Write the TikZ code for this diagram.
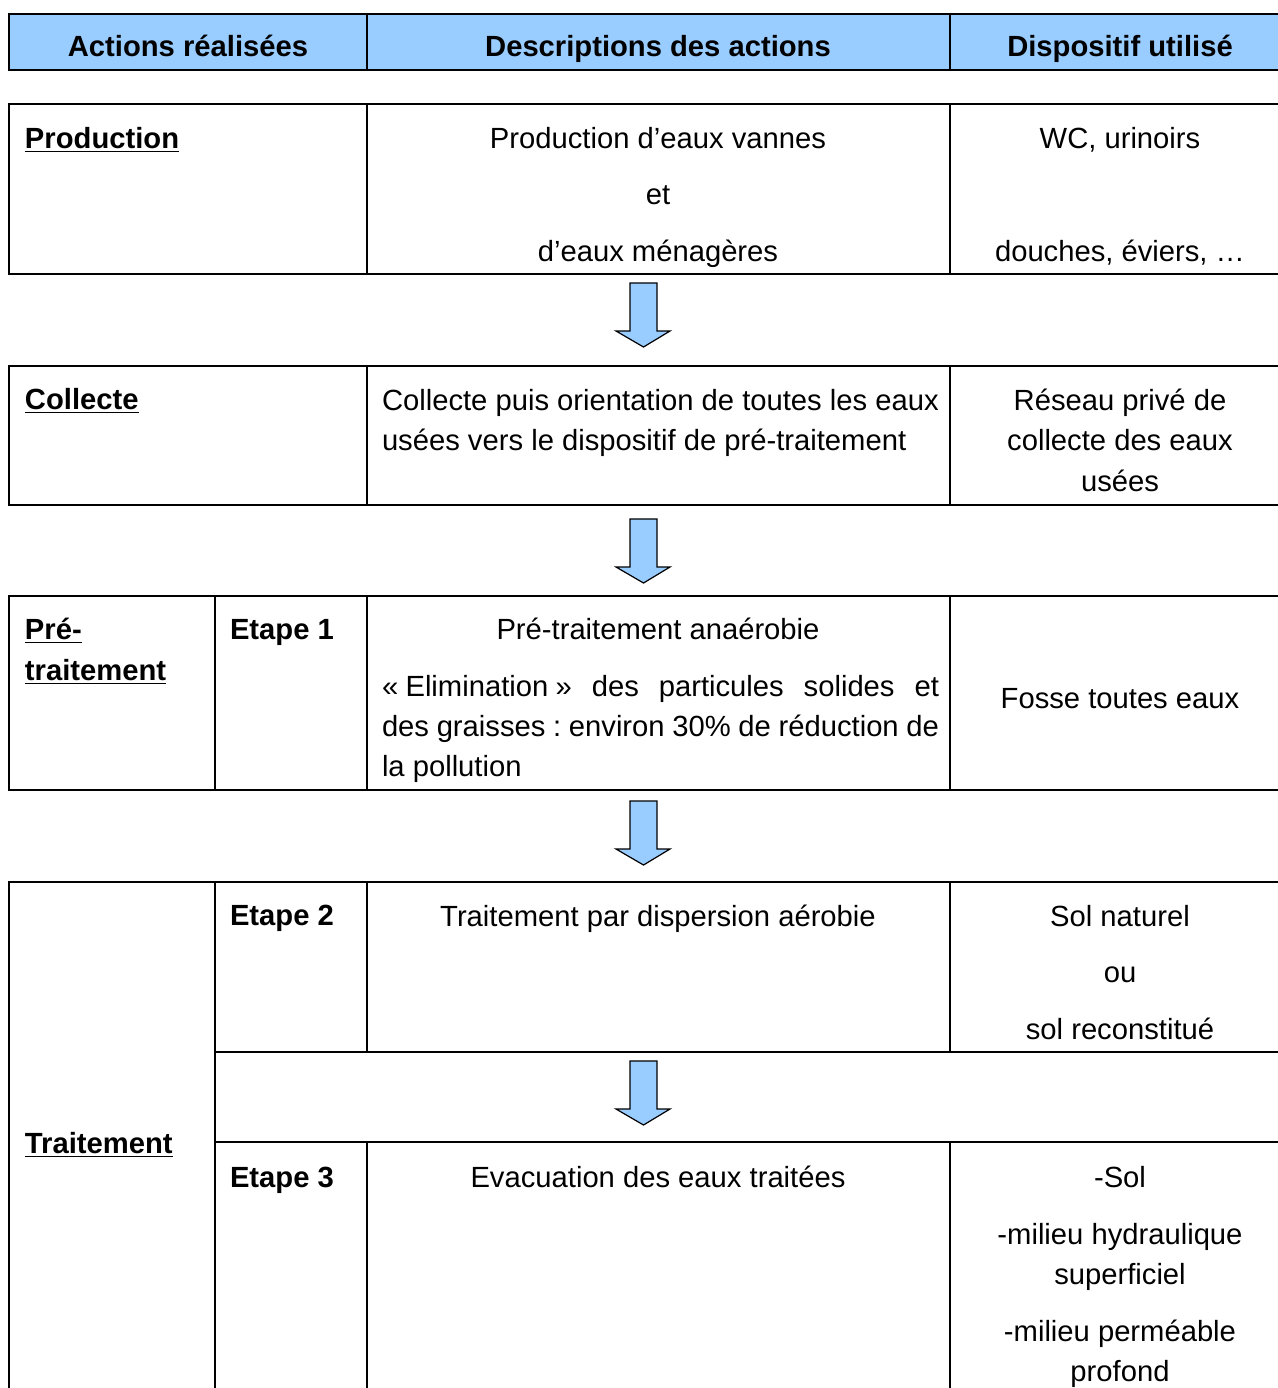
\documentclass[tikz,border=0pt]{standalone}
\usepackage{fontspec}
\setmainfont{Liberation Sans}
\usepackage{xcolor}
\definecolor{headblue}{HTML}{99CCFF}
\frenchspacing

\begin{document}
\begin{tikzpicture}[x=0.5pt,y=-0.5pt,line width=1pt,
    txt/.style={inner sep=0pt,font=\fontsize{14.6}{20}\selectfont},
    mid/.style={txt,anchor=base},
    lft/.style={txt,anchor=base west},
    head/.style={mid,font=\fontsize{14.6}{20}\selectfont\bfseries},
    action/.style={lft,font=\fontsize{14.6}{20}\selectfont\bfseries},
    downarrow/.style={draw,line width=0.6pt,fill=headblue,line join=miter}]

    \useasboundingbox (0,0) rectangle (1278,1388);

    % header row
    \fill[headblue] (9,14) rectangle (1290,70);
    \draw (1290,14) -- (9,14) -- (9,70) -- (1290,70);
    \draw (367,14) -- (367,70) (950,14) -- (950,70);

    % row boxes
    \foreach \top/\bot in {104/274, 366/505, 596/790}{
        \draw (1290,\top) -- (9,\top) -- (9,\bot) -- (1290,\bot);
        \draw (367,\top) -- (367,\bot) (950,\top) -- (950,\bot);
    }
    \draw (215,596) -- (215,790);

    % traitement block
    \draw (1290,882) -- (9,882) -- (9,1400);
    \draw (215,882) -- (215,1400);
    \draw (215,1052) -- (1290,1052) (215,1142) -- (1290,1142);
    \draw (367,882) -- (367,1052) (950,882) -- (950,1052);
    \draw (367,1142) -- (367,1400) (950,1142) -- (950,1400);

    % arrows
    \foreach \t in {283,519,801,1061}
        \draw[downarrow] (630,\t) -- (657,\t) -- (657,\t+48) -- (670,\t+48) -- (643.5,\t+64) -- (616,\t+48) -- (630,\t+48) -- cycle;

    \node[head] (h1) at (188,56) {Actions réalisées};
    \node[head] (h2) at (658,56) {Descriptions des actions};
    \node[head] (h3) at (1120,56) {Dispositif utilisé};

    \node[action] (prod) at (24,148) {\underline{Production}};
    \node[mid] (prod-d1) at (658,148) {Production d’eaux vannes};
    \node[mid] (prod-d2) at (658,204) {et};
    \node[mid] (prod-d3) at (658,261) {d’eaux ménagères};
    \node[mid] (prod-e1) at (1120,148) {WC, urinoirs};
    \node[mid] (prod-e2) at (1120,261) {douches, éviers, …};

    \node[action] (coll) at (24,409) {\underline{Collecte}};
    \node[lft] (coll-d1) at (381,410) {Collecte puis orientation de toutes les eaux};
    \node[lft] (coll-d2) at (381,450) {usées vers le dispositif de pré-traitement};
    \node[mid] (coll-e1) at (1120,410) {Réseau privé de};
    \node[mid] (coll-e2) at (1120,450) {collecte des eaux};
    \node[mid] (coll-e3) at (1120,491) {usées};

    \node[action] (pre1) at (24,639) {\underline{Pré-}};
    \node[action] (pre2) at (24,680) {\underline{traitement}};
    \node[action] (et1) at (229,639) {Etape 1};
    \node[mid] (pre-d1) at (658,639) {Pré-traitement anaérobie};
    \node[lft,text width=278.5pt,align=justify] (pre-d2) at (381,696)
        {«\hspace{0.25em}Elimination\hspace{0.25em}» des particules solides et\linebreak des graisses : environ 30\% de réduction de\linebreak la pollution};
    \node[mid] (pre-e1) at (1120,708) {Fosse toutes eaux};

    \node[action] (trait) at (24,1153) {\underline{Traitement}};
    \node[action] (et2) at (229,925) {Etape 2};
    \node[mid] (t2-d) at (658,926) {Traitement par dispersion aérobie};
    \node[mid] (t2-e1) at (1120,926) {Sol naturel};
    \node[mid] (t2-e2) at (1120,982) {ou};
    \node[mid] (t2-e3) at (1120,1039) {sol reconstitué};
    \node[action] (et3) at (229,1187) {Etape 3};
    \node[mid] (t3-d) at (658,1187) {Evacuation des eaux traitées};
    \node[mid] (t3-e1) at (1120,1187) {-Sol};
    \node[mid] (t3-e2) at (1120,1244) {-milieu hydraulique};
    \node[mid] (t3-e3) at (1120,1284) {superficiel};
    \node[mid] (t3-e4) at (1120,1341) {-milieu perméable};
    \node[mid] (t3-e5) at (1120,1381) {profond};

\end{tikzpicture}
\end{document}
